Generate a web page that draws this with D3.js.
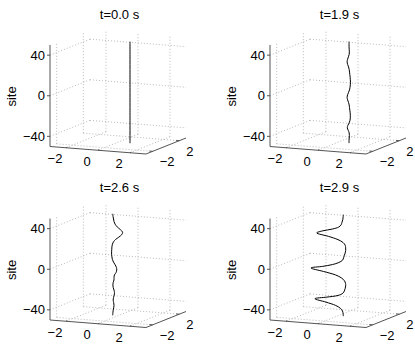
<!DOCTYPE html>
<html><head><meta charset="utf-8">
<script src="https://cdn.jsdelivr.net/npm/d3@7"></script>
<style>
body{margin:0;background:#fff}
svg text{font-family:"Liberation Sans",Arial,Helvetica,sans-serif;font-size:13px;fill:#000}
</style>
</head><body>
<svg id="chart" width="415" height="345"></svg>
<script>
// ---- data ----
const titles = ["t=0.0 s", "t=1.9 s", "t=2.6 s", "t=2.9 s"];
const xTicks = [-2, 0, 2];
const yTicks = [-2, 2];
const zTicks = [-40, 0, 40];
const sites = [-50,-47.5,-45,-42.5,-40,-37.5,-35,-32.5,-30,-27.5,-25,-22.5,-20,-17.5,-15,-12.5,-10,-7.5,-5,-2.5,0,
               2.5,5,7.5,10,12.5,15,17.5,20,22.5,25,27.5,30,32.5,35,37.5,40,42.5,45,47.5,50];
const re00 = [0.75,0.75,0.75,0.75,0.75,0.75,0.75,0.75,0.75,0.75,0.75,0.75,0.75,0.75,0.75,0.75,0.75,0.75,0.75,0.75,0.75,
              0.75,0.75,0.75,0.75,0.75,0.75,0.75,0.75,0.75,0.75,0.75,0.75,0.75,0.75,0.75,0.75,0.75,0.75,0.75,0.75];
const re19 = [0.69,0.69,0.7,0.71,0.7,0.64,0.58,0.62,0.7,0.75,0.77,0.77,0.76,0.74,0.72,0.7,0.66,0.6,0.57,0.6,0.66,
              0.72,0.75,0.77,0.78,0.77,0.76,0.74,0.72,0.7,0.66,0.6,0.57,0.6,0.65,0.7,0.71,0.7,0.69,0.69,0.69];
const re26 = [-0.33,-0.32,-0.3,-0.27,-0.25,-0.27,-0.3,-0.28,-0.24,-0.22,-0.25,-0.3,-0.32,-0.3,-0.25,-0.25,-0.22,-0.12,-0.08,-0.1,-0.18,
              -0.28,-0.35,-0.38,-0.4,-0.4,-0.39,-0.38,-0.35,-0.28,-0.15,0.05,0.22,0.29,0.15,-0.05,-0.18,-0.25,-0.28,-0.31,-0.33];
const re29 = [0.33,0.32,0.28,0.15,-0.15,-0.75,-1.44,-0.7,0.0,0.3,0.4,0.45,0.48,0.47,0.4,0.22,-0.15,-0.9,-1.69,-0.95,-0.35,
              0.05,0.28,0.35,0.4,0.45,0.48,0.48,0.45,0.32,0.0,-0.6,-1.33,-0.95,-0.35,0.05,0.2,0.25,0.3,0.32,0.33];
const series = [re00, re19, re26, re29];

// ---- projection ----
const xRange = [-3, 3], yRange = [-3, 3], zRange = [-50, 50];
const sx = d3.scaleLinear().domain(xRange).range([0, 1]);
const sy = d3.scaleLinear().domain(yRange).range([0, 1]);
const sz = d3.scaleLinear().domain(zRange).range([0, 1]);
const EX = [96, 7.5], EY = [40, -16], EZ = 101.5;
const origins = [[50, 146.5], [270, 146.5], [50, 320], [270, 320]];

const svg = d3.select("#chart");

origins.forEach((o, i) => {
  const P = (x, y, z) => {
    const a = sx(x), b = sy(y), c = sz(z);
    return [o[0] + a * EX[0] + b * EY[0], o[1] + a * EX[1] + b * EY[1] - c * EZ];
  };
  const g = svg.append("g");
  const grid = g.append("g").attr("stroke", "#a8a8a8").attr("stroke-width", 0.8)
    .attr("stroke-dasharray", "1,2").attr("fill", "none");
  const seg = (sel, p, q) => sel.append("line").attr("x1", p[0]).attr("y1", p[1]).attr("x2", q[0]).attr("y2", q[1]);
  const [x0, x1] = xRange, [y0, y1] = yRange, [z0, z1] = zRange;
  // left wall x = x0
  zTicks.forEach(z => seg(grid, P(x0, y0, z), P(x0, y1, z)));
  yTicks.forEach(y => seg(grid, P(x0, y, z0), P(x0, y, z1)));
  // back wall y = y1
  zTicks.forEach(z => seg(grid, P(x0, y1, z), P(x1, y1, z)));
  xTicks.forEach(x => seg(grid, P(x, y1, z0), P(x, y1, z1)));
  // floor z = z0
  xTicks.forEach(x => seg(grid, P(x, y0, z0), P(x, y1, z0)));
  yTicks.forEach(y => seg(grid, P(x0, y, z0), P(x1, y, z0)));

  // axes
  const ax = g.append("g").attr("stroke", "#555").attr("stroke-width", 1).attr("fill", "none");
  seg(ax, P(x0, y0, z0), P(x0, y0, z1));
  seg(ax, P(x0, y0, z0), P(x1, y0, z0));
  seg(ax, P(x1, y0, z0), P(x1, y1, z0));
  zTicks.forEach(z => { const p = P(x0, y0, z); seg(ax, [p[0] - 3, p[1]], p); });
  xTicks.forEach(x => seg(ax, P(x, y0, z0), P(x, y0 + 0.2, z0)));
  yTicks.forEach(y => seg(ax, P(x1, y, z0), P(x1 - 0.2, y, z0)));

  // labels
  zTicks.forEach(z => { const p = P(x0, y0, z);
    g.append("text").attr("x", p[0] - 5).attr("y", p[1]).attr("text-anchor", "end")
      .attr("dominant-baseline", "central").text(d3.format("d")(z)); });
  xTicks.forEach(x => { const p = P(x, y0, z0);
    g.append("text").attr("x", p[0] - 11).attr("y", p[1] + 11).attr("text-anchor", "middle")
      .attr("dominant-baseline", "central").text(d3.format("d")(x)); });
  yTicks.forEach(y => { const p = P(x1, y, z0);
    g.append("text").attr("x", p[0] + 7).attr("y", p[1] + 10.5).attr("text-anchor", "start")
      .attr("dominant-baseline", "central").text(d3.format("d")(y)); });
  g.append("text").attr("x", o[0] + 69.5).attr("y", o[1] - 132.5).attr("text-anchor", "middle")
    .attr("dominant-baseline", "central").text(titles[i]);
  g.append("text").attr("transform", `translate(${o[0] - 39},${o[1] - 50}) rotate(-90)`)
    .attr("text-anchor", "middle").attr("dominant-baseline", "central").text("site");

  // curve
  const vals = series[i];
  const pts = sites.map((s, k) => P(vals[k], 0, s));
  g.append("path").attr("d", d3.line().curve(d3.curveCatmullRom.alpha(0.5))(pts))
    .attr("fill", "none").attr("stroke", "#000").attr("stroke-width", 1);
});
</script>
</body></html>
